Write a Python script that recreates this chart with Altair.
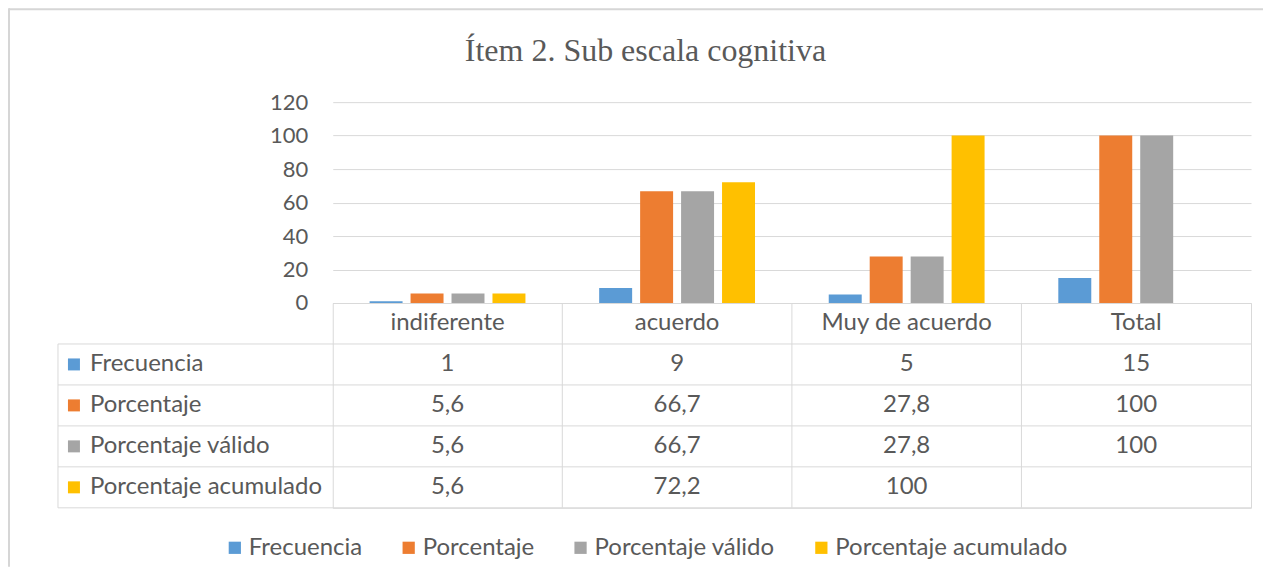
import altair as alt
import pandas as pd

# ---- data ----
categories = ["indiferente", "acuerdo", "Muy de acuerdo", "Total"]
series = ["Frecuencia", "Porcentaje", "Porcentaje válido", "Porcentaje acumulado"]
frecuencia = [1, 9, 5, 15]
porcentaje = [5.6, 66.7, 27.8, 100]
porcentaje_valido = [5.6, 66.7, 27.8, 100]
porcentaje_acumulado = [5.6, 72.2, 100, None]
y_ticks = [0, 20, 40, 60, 80, 100, 120]
colors = ["#5B9BD5", "#ED7D31", "#A5A5A5", "#FFC000"]
title_text = "Ítem 2. Sub escala cognitiva"

# ---- layout / style constants ----
FONT = "Lato"
TFONT = "Liberation Serif"
TXT = "#595959"
LINE = "#D9D9D9"
FRAME = "#D6D6D6"
FS_AX = 22       # y-axis labels
FS = 24          # table and legend text
W = 919          # plot width
HB = 201         # bar plot height
ROW = 41         # table row height
HT = ROW * 5     # table height
HEAD = 275       # width of the row-header column

values = dict(zip(series, [frecuencia, porcentaje, porcentaje_valido, porcentaje_acumulado]))

rows = []
for s in series:
    for c, v in zip(categories, values[s]):
        rows.append({"cat": c, "serie": s, "row": s, "value": v,
                     "label": "" if v is None else f"{v:g}".replace(".", ",")})
df = pd.DataFrame(rows)
bars_df = df.dropna(subset=["value"])

header_df = pd.DataFrame({"cat": categories, "row": "_cat", "label": categories})
rowlab_df = pd.DataFrame({"row": series, "serie": series})
row_domain = ["_cat"] + series
one = pd.DataFrame({"t": [title_text]})

xscale = alt.Scale(domain=categories, paddingInner=0, paddingOuter=0)
cscale = alt.Scale(domain=series, range=colors)
legend = alt.Legend(title=None, orient="none", legendX=-110, legendY=434,
                    direction="horizontal", symbolType="square", symbolSize=150,
                    symbolStrokeWidth=0, labelFontSize=FS, labelFont=FONT,
                    labelColor=TXT, columnPadding=34, labelOffset=2, labelLimit=400)

bars = alt.Chart(bars_df).mark_bar().encode(
    x=alt.X("cat:N", scale=xscale, sort=categories, axis=None),
    xOffset=alt.XOffset("serie:N", sort=series,
                        scale=alt.Scale(domain=series, paddingInner=0.195, paddingOuter=0.9)),
    y=alt.Y("value:Q", scale=alt.Scale(domain=[0, 120]),
            axis=alt.Axis(values=y_ticks, title=None, grid=True, gridColor=LINE,
                          domain=False, ticks=False, labelFontSize=FS_AX, labelFont=FONT,
                          labelColor=TXT, labelPadding=25)),
    color=alt.Color("serie:N", scale=cscale, legend=legend),
)

# chart-area frame (top and left edges) and the chart title
frame_top = alt.Chart(one).mark_rule(color=FRAME, strokeWidth=2).encode(
    x=alt.value(-324), x2=alt.value(W + 12), y=alt.value(-93))
frame_left = alt.Chart(one).mark_rule(color=FRAME, strokeWidth=2).encode(
    x=alt.value(-324), y=alt.value(-94), y2=alt.value(465))
title = alt.Chart(one).mark_text(font=TFONT, fontSize=32, color=TXT, align="center",
                                 baseline="alphabetic").encode(
    x=alt.value(313), y=alt.value(-41), text="t:N")

top = alt.layer(bars, frame_top, frame_left, title).properties(width=W, height=HB)

yt = alt.Y("row:N", scale=alt.Scale(domain=row_domain, paddingInner=0, paddingOuter=0), axis=None)
xt = alt.X("cat:N", scale=xscale, sort=categories, axis=None)

header_text = alt.Chart(header_df).mark_text(fontSize=FS, font=FONT, color=TXT).encode(
    x=xt, y=yt, text="label:N")
value_text = alt.Chart(df).mark_text(fontSize=FS, font=FONT, color=TXT).encode(
    x=xt, y=yt, text="label:N")
row_text = alt.Chart(rowlab_df).mark_text(fontSize=FS, font=FONT, color=TXT, align="left").encode(
    x=alt.value(-243), y=yt, text="serie:N")
row_sq = alt.Chart(rowlab_df).mark_square(size=144, opacity=1).encode(
    x=alt.value(-259), y=yt, color=alt.Color("serie:N", scale=cscale, legend=legend))

vlines = alt.Chart(pd.DataFrame({"cat": categories[1:]})).mark_rule(color=LINE).encode(
    x=alt.X("cat:N", scale=xscale, sort=categories, axis=None, bandPosition=0))
hlines = alt.Chart(pd.DataFrame({"row": series})).mark_rule(color=LINE).encode(
    y=alt.Y("row:N", scale=alt.Scale(domain=row_domain, paddingInner=0, paddingOuter=0),
            axis=None, bandPosition=0),
    x=alt.value(-HEAD), x2=alt.value(W))
bottom_line = alt.Chart(pd.DataFrame({"row": series[-1:]})).mark_rule(color=LINE).encode(
    y=alt.Y("row:N", scale=alt.Scale(domain=row_domain, paddingInner=0, paddingOuter=0),
            axis=None, bandPosition=1),
    x=alt.value(-HEAD), x2=alt.value(W))
left_line = alt.Chart(pd.DataFrame({"row": series[:1]})).mark_rule(color=LINE).encode(
    x=alt.value(-HEAD), y=alt.value(ROW), y2=alt.value(HT))

table = alt.layer(vlines, hlines, bottom_line, left_line, header_text, value_text,
                  row_text, row_sq).properties(
    width=W, height=HT, view=alt.ViewBackground(stroke=LINE, strokeWidth=1))

chart = alt.vconcat(top, table, spacing=0, bounds="flush").properties(
    padding={"left": -1, "top": -2, "right": 0, "bottom": 0}
).configure_view(stroke="transparent")

chart.save("out.html", embed_options={"renderer": "svg", "actions": False})
